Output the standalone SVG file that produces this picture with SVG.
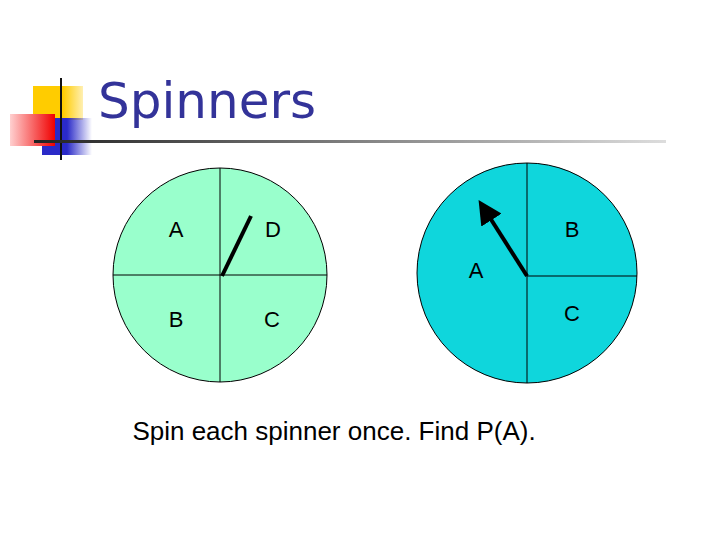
<svg xmlns="http://www.w3.org/2000/svg" width="720" height="540" viewBox="0 0 720 540">
<defs>
<linearGradient id="red" x1="0" x2="1"><stop offset="0" stop-color="#ffd0d0"/><stop offset="1" stop-color="#f00000"/></linearGradient>
<linearGradient id="blue" x1="0" x2="1"><stop offset="0.5" stop-color="#2a2ac8"/><stop offset="1" stop-color="#2a2ac8" stop-opacity="0"/></linearGradient>
<linearGradient id="yel" x1="0" x2="1"><stop offset="0.6" stop-color="#ffcc00"/><stop offset="1" stop-color="#ffcc00" stop-opacity="0.3"/></linearGradient>
<linearGradient id="rule" x1="0" x2="1"><stop offset="0" stop-color="#222"/><stop offset="1" stop-color="#ddd"/></linearGradient>
<marker id="ah" markerWidth="6" markerHeight="6" refX="3" refY="3" orient="auto" markerUnits="strokeWidth"><path d="M0,0 L6,3 L0,6 z" fill="#000"/></marker>
<style>
.t{font-family:"Liberation Sans",Arial,sans-serif;font-size:22px;fill:#000;text-anchor:middle}
.d{stroke:#000;stroke-width:1}
</style>
</defs>
<g id="logo">
<rect x="33" y="86" width="50" height="34" fill="url(#yel)"/>
<rect x="42" y="118" width="50" height="37" fill="url(#blue)"/>
<rect x="10" y="114" width="45" height="32" fill="url(#red)"/>
<line x1="61" y1="78" x2="61" y2="160" stroke="#111" stroke-width="2"/>
<rect x="34" y="140" width="632" height="3" fill="url(#rule)"/>
</g>
<text x="98" y="118" style="font-family:'DejaVu Sans',Verdana,sans-serif;font-size:50px;fill:#333399">Spinners</text>
<g id="spinner1">
<circle cx="220" cy="275" r="107" fill="#99ffcc" class="d"/>
<line x1="220" y1="168" x2="220" y2="382" class="d"/>
<line x1="113" y1="275" x2="327" y2="275" class="d"/>
<text class="t" x="176" y="237">A</text>
<text class="t" x="273" y="237">D</text>
<text class="t" x="176" y="327">B</text>
<text class="t" x="272" y="327">C</text>
</g>
<g id="spinner2">
<circle cx="527" cy="273" r="110" fill="#0fd6dc" class="d"/>
<line x1="527" y1="163" x2="527" y2="383" class="d"/>
<line x1="527" y1="276" x2="637" y2="276" class="d"/>
<text class="t" x="572" y="237">B</text>
<text class="t" x="476" y="278">A</text>
<text class="t" x="572" y="321">C</text>
</g>
<g id="connectors">
<line x1="222" y1="276" x2="251" y2="216" stroke="#000" stroke-width="4"/>
<line x1="527" y1="276" x2="485" y2="210" stroke="#000" stroke-width="4" marker-end="url(#ah)"/>
</g>
<text x="334" y="440" style="font-family:'Liberation Sans',Arial,sans-serif;font-size:26px;fill:#000;text-anchor:middle">Spin each spinner once. Find P(A).</text>
</svg>
